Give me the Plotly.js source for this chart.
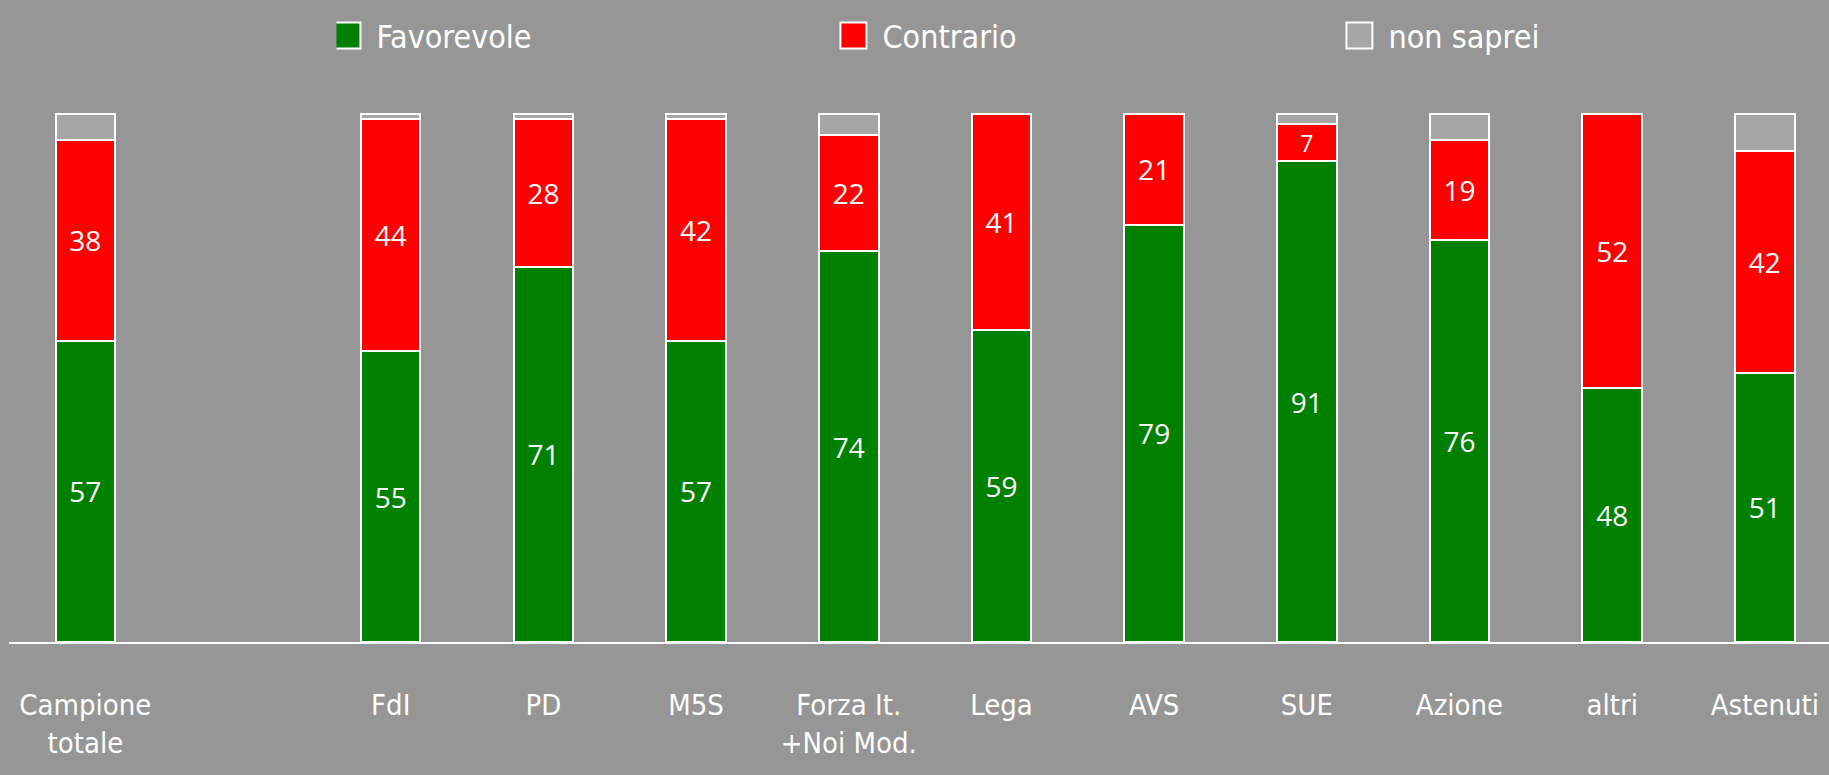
<!DOCTYPE html>
<html>
<head>
<meta charset="utf-8">
<script src="https://cdn.plot.ly/plotly-3.0.1.min.js"></script>
<style>
html,body{margin:0;padding:0;background:#969696;}
#chart{width:1829px;height:775px;}
</style>
</head>
<body>
<div id="chart"></div>
<script>
const categories = ["Campione<br>totale", " ", "FdI", "PD", "M5S", "Forza It.<br>+Noi Mod.", "Lega", "AVS", "SUE", "Azione", "altri", "Astenuti"];
const favorevole = [57, null, 55, 71, 57, 74, 59, 79, 91, 76, 48, 51];
const contrario  = [38, null, 44, 28, 42, 22, 41, 21, 7, 19, 52, 42];
const nonSaprei  = [5, null, 1, 1, 1, 4, 0, 0, 2, 5, 0, 7];
const seriesNames = ["Favorevole", "Contrario", "non saprei"];
const seriesColors = ["#008000", "#ff0000", "#a6a6a6"];

const labelFont = "'DejaVu Sans Condensed', 'Liberation Sans Narrow', sans-serif";
const valueFont = "'Open Sans', 'Noto Sans', sans-serif";

function barTrace(name, values, color, showText) {
  return {
    type: 'bar',
    name: name,
    x: categories,
    y: values,
    marker: {color: color, line: {color: '#ffffff', width: 2}},
    text: showText ? values.map(v => v == null ? '' : String(v)) : undefined,
    textposition: showText ? 'inside' : 'none',
    insidetextanchor: 'middle',
    textangle: 0,
    textfont: {family: valueFont, size: 28, color: '#ffffff'},
    hoverinfo: 'x+y+name'
  };
}

const data = [
  barTrace(seriesNames[0], favorevole, seriesColors[0], true),
  barTrace(seriesNames[1], contrario, seriesColors[1], true),
  barTrace(seriesNames[2], nonSaprei, seriesColors[2], false)
];

const layout = {
  width: 1829,
  height: 775,
  paper_bgcolor: '#969696',
  plot_bgcolor: '#969696',
  barmode: 'stack',
  bargap: 0.61,
  margin: {l: 9, r: 0, t: 111, b: 133, pad: 0, autoexpand: false},
  font: {family: labelFont, color: '#ffffff'},
  xaxis: {
    type: 'category',
    range: [-0.5, 11.42],
    showline: true,
    linecolor: '#ffffff',
    linewidth: 2,
    showgrid: false,
    zeroline: false,
    ticks: '',
    ticklabelstandoff: 36,
    automargin: false,
    tickfont: {family: labelFont, size: 29, color: '#ffffff'},
    fixedrange: true
  },
  yaxis: {
    range: [0, 100.5],
    visible: false,
    showgrid: false,
    zeroline: false,
    fixedrange: true
  },
  showlegend: true,
  legend: {
    orientation: 'h',
    x: 0.1799,
    xanchor: 'left',
    y: 1.142,
    yanchor: 'middle',
    traceorder: 'normal',
    entrywidth: 461,
    entrywidthmode: 'pixels',
    bgcolor: 'rgba(0,0,0,0)',
    font: {family: labelFont, size: 32, color: '#ffffff'}
  }
};

Plotly.newPlot('chart', data, layout, {displayModeBar: false, responsive: false}).then(function (gd) {
  // enlarge legend swatches to match the reference's big square boxes
  gd.querySelectorAll('.legend .legendpoints path').forEach(function (p) {
    p.setAttribute('d', 'M4,13H-22V-13H4Z');
  });
});
</script>
</body>
</html>
